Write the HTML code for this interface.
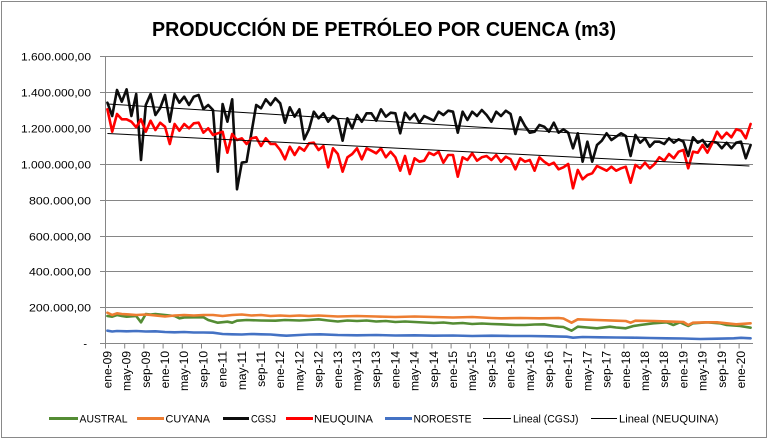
<!DOCTYPE html>
<html><head><meta charset="utf-8"><style>
html,body{margin:0;padding:0;background:#fff;}
svg{display:block;font-family:"Liberation Sans",Arial,sans-serif;}
</style></head><body>
<svg width="769" height="440" viewBox="0 0 769 440" xmlns="http://www.w3.org/2000/svg">
<rect x="0" y="0" width="769" height="440" fill="#fff"/>
<rect x="1.5" y="1.5" width="765" height="436" fill="none" stroke="#898989" stroke-width="1"/>
<text x="384" y="36" font-size="20" font-weight="bold" text-anchor="middle" textLength="464" lengthAdjust="spacingAndGlyphs" fill="#000">PRODUCCIÓN DE PETRÓLEO POR CUENCA (m3)</text>
<g stroke="#868686" stroke-width="1" fill="none">
<line x1="100" y1="56.5" x2="753" y2="56.5"/>
<line x1="100" y1="92.5" x2="753" y2="92.5"/>
<line x1="100" y1="128.5" x2="753" y2="128.5"/>
<line x1="100" y1="164.5" x2="753" y2="164.5"/>
<line x1="100" y1="200.5" x2="753" y2="200.5"/>
<line x1="100" y1="236.5" x2="753" y2="236.5"/>
<line x1="100" y1="271.5" x2="753" y2="271.5"/>
<line x1="100" y1="307.5" x2="753" y2="307.5"/>
<line x1="100" y1="343.5" x2="753" y2="343.5"/>
<line x1="105.5" y1="56" x2="105.5" y2="344"/>
<path d="M105.5 343.5v5M124.7 343.5v5M143.9 343.5v5M163.1 343.5v5M182.3 343.5v5M201.5 343.5v5M220.7 343.5v5M239.9 343.5v5M259.1 343.5v5M278.3 343.5v5M297.5 343.5v5M316.7 343.5v5M335.9 343.5v5M355.1 343.5v5M374.3 343.5v5M393.5 343.5v5M412.7 343.5v5M431.9 343.5v5M451.1 343.5v5M470.3 343.5v5M489.5 343.5v5M508.7 343.5v5M527.9 343.5v5M547.1 343.5v5M566.3 343.5v5M585.5 343.5v5M604.7 343.5v5M623.9 343.5v5M643.1 343.5v5M662.3 343.5v5M681.5 343.5v5M700.7 343.5v5M719.9 343.5v5M739.1 343.5v5"/>
</g>
<g font-size="11" fill="#000" text-anchor="end">
<text x="91" y="60.5" textLength="70" lengthAdjust="spacingAndGlyphs">1.600.000,00</text>
<text x="91" y="96.5" textLength="70" lengthAdjust="spacingAndGlyphs">1.400.000,00</text>
<text x="91" y="132.5" textLength="70" lengthAdjust="spacingAndGlyphs">1.200.000,00</text>
<text x="91" y="168.5" textLength="70" lengthAdjust="spacingAndGlyphs">1.000.000,00</text>
<text x="91" y="204.5" textLength="62" lengthAdjust="spacingAndGlyphs">800.000,00</text>
<text x="91" y="240.5" textLength="62" lengthAdjust="spacingAndGlyphs">600.000,00</text>
<text x="91" y="275.5" textLength="62" lengthAdjust="spacingAndGlyphs">400.000,00</text>
<text x="91" y="311.5" textLength="62" lengthAdjust="spacingAndGlyphs">200.000,00</text>
<text x="87" y="347.5">-</text>
</g>
<g font-size="12" fill="#000" text-anchor="end">
<text transform="translate(111.4 351) rotate(-90)">ene-09</text>
<text transform="translate(130.6 351) rotate(-90)">may-09</text>
<text transform="translate(149.8 351) rotate(-90)">sep-09</text>
<text transform="translate(169 351) rotate(-90)">ene-10</text>
<text transform="translate(188.2 351) rotate(-90)">may-10</text>
<text transform="translate(207.4 351) rotate(-90)">sep-10</text>
<text transform="translate(226.6 351) rotate(-90)">ene-11</text>
<text transform="translate(245.8 351) rotate(-90)">may-11</text>
<text transform="translate(265 351) rotate(-90)">sep-11</text>
<text transform="translate(284.2 351) rotate(-90)">ene-12</text>
<text transform="translate(303.4 351) rotate(-90)">may-12</text>
<text transform="translate(322.6 351) rotate(-90)">sep-12</text>
<text transform="translate(341.8 351) rotate(-90)">ene-13</text>
<text transform="translate(361 351) rotate(-90)">may-13</text>
<text transform="translate(380.2 351) rotate(-90)">sep-13</text>
<text transform="translate(399.4 351) rotate(-90)">ene-14</text>
<text transform="translate(418.6 351) rotate(-90)">may-14</text>
<text transform="translate(437.8 351) rotate(-90)">sep-14</text>
<text transform="translate(457 351) rotate(-90)">ene-15</text>
<text transform="translate(476.2 351) rotate(-90)">may-15</text>
<text transform="translate(495.4 351) rotate(-90)">sep-15</text>
<text transform="translate(514.6 351) rotate(-90)">ene-16</text>
<text transform="translate(533.8 351) rotate(-90)">may-16</text>
<text transform="translate(553 351) rotate(-90)">sep-16</text>
<text transform="translate(572.2 351) rotate(-90)">ene-17</text>
<text transform="translate(591.4 351) rotate(-90)">may-17</text>
<text transform="translate(610.6 351) rotate(-90)">sep-17</text>
<text transform="translate(629.8 351) rotate(-90)">ene-18</text>
<text transform="translate(649 351) rotate(-90)">may-18</text>
<text transform="translate(668.2 351) rotate(-90)">sep-18</text>
<text transform="translate(687.4 351) rotate(-90)">ene-19</text>
<text transform="translate(706.6 351) rotate(-90)">may-19</text>
<text transform="translate(725.8 351) rotate(-90)">sep-19</text>
<text transform="translate(745 351) rotate(-90)">ene-20</text>
</g>
<g transform="translate(107.4 0) scale(4.8 1)" fill="none" stroke-linejoin="round" stroke-linecap="round">
<polyline vector-effect="non-scaling-stroke" stroke="#548C34" stroke-width="2.6" points="0,316 1,316.7 2,315 3,316 4,316.7 5,316.3 6,316 7,322.3 8,314 9,314.5 10,314 11,314.5 12,315 14,316 15,318.3 16,317.5 18,317.3 20,317.3 21,320 23,322.7 25,321.7 26,322.7 27,320.7 29,320 32,320.5 35,320.7 37,320 40,320.5 42,320 44,319.3 46,320.5 48,321.5 50,320.5 52,321 54,320.5 56,321.5 58,321 60,322 62,321.5 64,322 66,322.5 68,323 70,322.5 72,323.5 74,323 76,324 78,323.5 80,324 82,324.3 85,325 87,325 89,324.5 91,324.3 93,326 94,326.7 95,327 96.7,330.7 98,326.7 100,327.5 102,328.3 104.7,326.7 106,327.5 108,328.3 109.6,326 111,325 113.7,323.3 116.5,322.3 117.9,325 119.3,322.3 121,326 122,323.3 124.9,322.3 127.6,323.3 129,325 131.8,326 134,327.7"/>
<polyline vector-effect="non-scaling-stroke" stroke="#ED7D31" stroke-width="2.6" points="0,312.7 1,315 2,313.3 3,314 4,314.3 6,315 8,314.5 10,315.5 12,316.5 14,315.5 16,315 18,315.5 20,315 22,315 24,316 26,315 28,314.5 30,315.5 32,315 34,316 36,315.5 38,316 40,315.5 42,316 44,315.5 48,316.5 52,316 56,316.5 60,317 64,316.5 68,317 72,317.5 76,317 80,318 82,318.3 86,318 90,318.3 94,318 95,318.5 96.7,322.7 98,319.3 102,320 106,320.7 108,321 109,322.7 110,320.7 114,321 118,321.7 120,322 121,325 122,322.7 125,322.3 127,322.3 129,323.3 131,324.3 134,323.3"/>
<polyline vector-effect="non-scaling-stroke" stroke="#0D0D0D" stroke-width="2.6" points="0,102.7 1,116 2,90 3,101.7 4,89.3 5,116 6,94 7,160 8,105 9,94 10,115 11,108 12,95 13,121.7 14,94 15,102.7 16,96.7 17,105 18,96.7 19,95 20,109 21,105 22,110 23,171.7 24,104 25,121.7 26,99.3 27,189.3 28,162.7 29,161.7 30,133 31,105 32,108.3 33,99.3 34,105 35,98.3 36,103.3 37,122.7 38,107.3 39,116.7 40,109.3 41,139.3 42,129.3 43,111.7 44,118.3 45,113.3 46,121.7 47,116 48,119.3 49,140.7 50,118.3 51,128.3 52,115 53,121.7 54,113.3 55,113.3 56,120.7 57,109.3 58,116.7 59,112.7 60,113.3 61,133.3 62,112.7 63,119.3 64,114 65,122.7 66,116 67,118.3 68,120.7 69,111.7 70,115 71,110.7 72,111.7 73,132.7 74,111.7 75,120 76,111.7 77,116 78,110 79,115 80,121.7 81,111.7 82,116 83,110.7 84,114 85,134 86,117.3 87,126 88,132.7 89,131.7 90,125 91,126.7 92,131.7 93,122.7 94,132.7 95,129.3 96,132.7 97,148.3 98,133.3 99,161.7 100,141.7 101,161.7 102,145 103,140.7 104,133.3 105,140 106,136.7 107,133.3 108,136 109,156 110,135 111,142.7 112,138.3 113,146.7 114,141.7 115,141.7 116,144 117,138.3 118,142.7 119,139.3 120,141.7 121,156 122,137.3 123,142.7 124,140 125,146.7 126,141.7 127,142.7 128,148.3 129,142.7 130,148.3 131,142.7 132,141.7 133,158.3 134,145"/>
<polyline vector-effect="non-scaling-stroke" stroke="#FF0000" stroke-width="2.6" points="0,109.3 1,131.7 2,114 3,119.3 4,119.3 5,121.7 6,127.3 7,119.3 8,131.7 9,120.7 10,130 11,122.7 12,126.7 13,144 14,124 15,130.7 16,124 17,128.3 18,123.3 19,122.7 20,132.7 21,128.3 22,135 23,133.3 24,131.7 25,152.7 26,134 27,140 28,138.3 29,144 30,138.3 31,137.3 32,146 33,138.3 34,144 35,144 36,150 37,159.3 38,146.7 39,155 40,147.3 41,150.7 42,143.3 43,142.7 44,150 45,146 46,167.3 47,148.3 48,154 49,171.7 50,157.3 51,154 52,148.3 53,159.3 54,148.3 55,150.7 56,153.3 57,148.3 58,157.3 59,151.7 60,157.3 61,170.7 62,156 63,174 64,158.3 65,161.7 66,160.7 67,152.7 68,155 69,151.7 70,162.7 71,155 72,155 73,176.7 74,157.3 75,160 76,153.3 77,160.7 78,157.3 79,156 80,160 81,155 82,161.7 83,156.7 84,159.3 85,169.3 86,158.3 87,161.7 88,160 89,170.7 90,157.3 91,161.7 92,165 93,162.7 94,169.3 95,167.3 96,164 97,188.3 98,170 99,179.3 100,175 101,173.3 102,166 103,168.3 104,170.7 105,166.7 106,170.7 107,168.3 108,166.7 109,182.7 110,165 111,168.3 112,162.7 113,168.3 114,164 115,157.3 116,160.7 117,154 118,158.3 119,151.7 120,150 121,168.3 122,151.7 123,152.7 124,145 125,152.7 126,143.3 127,131.7 128,138.3 129,132.7 130,137.3 131,129.3 132,130.7 133,138.3 134,124"/>
<polyline vector-effect="non-scaling-stroke" stroke="#4472C4" stroke-width="2.6" points="0,330.7 1,331.5 2,331 4,331.3 6,331 8,331.5 10,331.3 12,332 14,332.3 16,332 18,332.5 20,332.5 22,332.7 24,334 26,334.3 28,334.5 30,334 32,334.3 34,334.5 36,335.3 37.3,335.7 40,335 42,334.5 44.3,334.3 48,335 52,335.3 56,335 60,335.5 64,335.3 68,335.7 72,335.5 76,336 80,335.7 84,336 88,336 92,336.3 95.7,336.7 97,337.7 99,337 102.6,337.3 106,337.5 109.6,337.7 113,338 116.5,338.3 120,338.5 123.5,339 127,338.7 130.5,338.3 132,337.8 134,338.3"/>
</g>
<line x1="107.4" y1="104" x2="749.4" y2="144" stroke="#000" stroke-width="1"/>
<line x1="107.4" y1="133.5" x2="749.4" y2="166" stroke="#000" stroke-width="1"/>
<g stroke-width="3">
<line x1="49" y1="418.5" x2="78" y2="418.5" stroke="#548C34"/>
<line x1="137" y1="418.5" x2="164" y2="418.5" stroke="#ED7D31"/>
<line x1="223" y1="418.5" x2="249" y2="418.5" stroke="#0D0D0D"/>
<line x1="286" y1="418.5" x2="313" y2="418.5" stroke="#FF0000"/>
<line x1="385" y1="418.5" x2="412" y2="418.5" stroke="#4472C4"/>
</g>
<line x1="483" y1="418.5" x2="511" y2="418.5" stroke="#000" stroke-width="1"/>
<line x1="591" y1="418.5" x2="617" y2="418.5" stroke="#000" stroke-width="1"/>
<g font-size="11" fill="#000">
<text x="79.5" y="422.5" textLength="48" lengthAdjust="spacingAndGlyphs">AUSTRAL</text>
<text x="165.5" y="422.5" textLength="44.5" lengthAdjust="spacingAndGlyphs">CUYANA</text>
<text x="251" y="422.5" textLength="25" lengthAdjust="spacingAndGlyphs">CGSJ</text>
<text x="314" y="422.5" textLength="59" lengthAdjust="spacingAndGlyphs">NEUQUINA</text>
<text x="413.5" y="422.5" textLength="58" lengthAdjust="spacingAndGlyphs">NOROESTE</text>
<text x="513" y="422.5" textLength="65.5" lengthAdjust="spacingAndGlyphs">Lineal (CGSJ)</text>
<text x="619" y="422.5" textLength="99.5" lengthAdjust="spacingAndGlyphs">Lineal (NEUQUINA)</text>
</g>
</svg>
</body></html>
